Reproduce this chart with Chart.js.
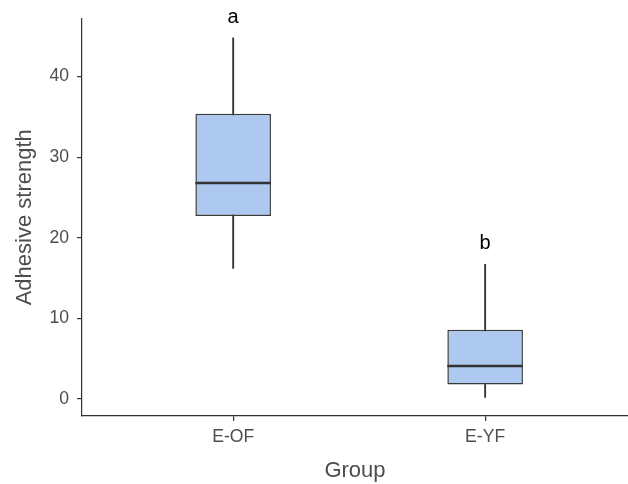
<!DOCTYPE html>
<html>
<head>
<meta charset="utf-8">
<script src="https://cdn.jsdelivr.net/npm/chart.js@4"></script>
<style>
  html, body { margin: 0; padding: 0; background: #ffffff; }
  #chart { display: block; }
</style>
</head>
<body>
<canvas id="chart" width="628" height="484"></canvas>
<script>
// Box plot of adhesive strength by group

const groups = ['E-OF', 'E-YF'];
const groupPos = [1, 2];
const whiskerLow = [16.2, 0.2];
const boxLow = [22.7, 1.8];
const medians = [26.8, 4.1];
const boxHigh = [35.4, 8.6];
const whiskerHigh = [44.8, 16.7];
const letters = ['a', 'b'];
const letterY = [46.6, 18.6];
const yTicks = [0, 10, 20, 30, 40];

const FONT = "'Liberation Sans', Arial, sans-serif";
const textGrey = '#4d4d4d';
const lineGrey = '#333333';

// median line + significance letters, drawn through the chart scales
const boxExtras = {
  id: 'boxExtras',
  afterDatasetsDraw(chart) {
    const ctx = chart.ctx;
    const y = chart.scales.y;
    const boxMeta = chart.getDatasetMeta(1);
    ctx.save();
    boxMeta.data.forEach((bar, i) => {
      const half = bar.width / 2;
      const my = y.getPixelForValue(medians[i]);
      ctx.strokeStyle = lineGrey;
      ctx.lineWidth = 2.6;
      ctx.beginPath();
      ctx.moveTo(bar.x - half, my);
      ctx.lineTo(bar.x + half, my);
      ctx.stroke();

      ctx.fillStyle = '#000000';
      ctx.font = '20px ' + FONT;
      ctx.textAlign = 'center';
      ctx.textBaseline = 'alphabetic';
      ctx.fillText(letters[i], bar.x, y.getPixelForValue(letterY[i]));
    });
    ctx.restore();
  }
};

new Chart(document.getElementById('chart'), {
  type: 'bar',
  data: {
    datasets: [
      {
        label: 'whisker',
        data: groupPos.map((x, i) => ({ x: x, y: [whiskerLow[i], whiskerHigh[i]] })),
        backgroundColor: lineGrey,
        borderWidth: 0,
        barThickness: 1.2,
        grouped: false,
        order: 2
      },
      {
        label: 'box',
        data: groupPos.map((x, i) => ({ x: x, y: [boxLow[i], boxHigh[i]] })),
        backgroundColor: '#aec9f0',
        borderColor: '#3a3a3a',
        borderWidth: 1.5,
        borderSkipped: false,
        categoryPercentage: 1,
        barPercentage: 0.3,
        grouped: false,
        order: 1
      }
    ]
  },
  options: {
    responsive: false,
    animation: false,
    layout: { padding: { top: 18, right: 0, left: 0, bottom: 0 } },
    plugins: {
      legend: { display: false },
      tooltip: { enabled: false }
    },
    scales: {
      x: {
        type: 'linear',
        min: 0.4,
        max: 2.567,
        offset: false,
        afterBuildTicks: (scale) => { scale.ticks = groupPos.map(v => ({ value: v })); },
        afterFit: (scale) => { scale.height = 68; },
        grid: { display: true, offset: false, drawOnChartArea: false, drawTicks: true, tickLength: 5, color: lineGrey, lineWidth: 1.2 },
        border: { display: true, color: lineGrey, width: 1.2 },
        ticks: {
          color: textGrey,
          font: { family: FONT, size: 17.6 },
          padding: 6,
          maxRotation: 0,
          callback: (v) => groups[groupPos.indexOf(v)]
        },
        title: {
          display: true,
          text: 'Group',
          color: textGrey,
          font: { family: FONT, size: 22 },
          padding: { top: 0, bottom: 0 }
        }
      },
      y: {
        min: -2.1,
        max: 47.2,
        afterBuildTicks: (scale) => { scale.ticks = yTicks.map(v => ({ value: v })); },
        afterFit: (scale) => { scale.width = 82; },
        grid: { display: true, drawOnChartArea: false, drawTicks: true, tickLength: 5, color: lineGrey, lineWidth: 1.2 },
        border: { display: true, color: lineGrey, width: 1.2 },
        ticks: {
          color: textGrey,
          font: { family: FONT, size: 17.6 },
          padding: 8
        },
        title: {
          display: true,
          text: 'Adhesive strength',
          color: textGrey,
          font: { family: FONT, size: 22 },
          padding: { top: 12, bottom: 0 }
        }
      }
    }
  },
  plugins: [boxExtras]
});
</script>
</body>
</html>
